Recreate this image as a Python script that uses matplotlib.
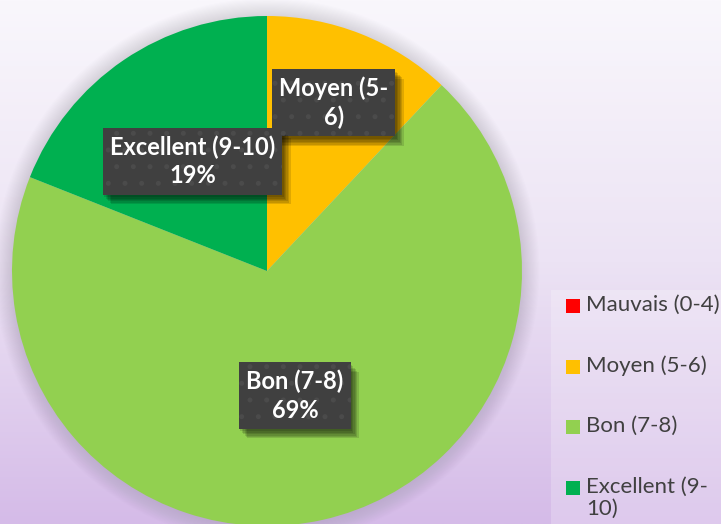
import numpy as np
import matplotlib
matplotlib.use("Agg")
import matplotlib.pyplot as plt
import matplotlib.patheffects as pe
from matplotlib.colors import LinearSegmentedColormap
from matplotlib.patches import Circle, Rectangle

# données
categories = ["Mauvais (0-4)", "Moyen (5-6)", "Bon (7-8)", "Excellent (9-\n10)"]
valeurs = [0, 12, 69, 19]
couleurs = ["#FF0000", "#FFC000", "#92D050", "#00B050"]
etiquettes = ["", "Moyen (5-\n6)", "Bon (7-8)\n69%", "Excellent (9-10)\n19%"]
dist_etiquettes = [0.6, 0.71, 0.50, 0.52]

W, H = 721, 524
plt.rcParams["font.family"] = ["Lato", "DejaVu Sans"]
plt.rcParams["hatch.linewidth"] = 1.2

fig = plt.figure(figsize=(W / 100, H / 100), dpi=100)
ax = fig.add_axes([0, 0, 1, 1])

# fond en dégradé vertical
fond = LinearSegmentedColormap.from_list("fond", ["#d5bbe8", "#ece3f4", "#f9f7fc"])
grad = np.linspace(0, 1, 256).reshape(-1, 1)
ax.imshow(grad, extent=[0, W, 0, H], origin="lower", cmap=fond,
          aspect="auto", zorder=0)

centre = (267, 253)
rayon = 255

# ombre douce autour du camembert
for k in range(16):
    ax.add_patch(Circle(centre, rayon + 1 + k * 1.1, fc="#6f6380",
                        alpha=0.012, lw=0, zorder=1))

wedges, _ = ax.pie(valeurs, colors=couleurs, startangle=90, counterclock=False,
                   center=centre, radius=rayon, frame=True,
                   wedgeprops=dict(linewidth=0, zorder=2))

ombre = [pe.SimplePatchShadow(offset=(o, -o - 1), shadow_rgbFace="black", alpha=0.12)
         for o in (1, 2, 3, 4, 5, 6)]
style = dict(ha="center", va="center", fontsize=17, fontweight="bold",
             linespacing=1.3)

for w, txt, d in zip(wedges, etiquettes, dist_etiquettes):
    if not txt:
        continue
    ang = np.deg2rad((w.theta1 + w.theta2) / 2)
    x = centre[0] + rayon * d * np.cos(ang)
    y = centre[1] + rayon * d * np.sin(ang)
    # fond de l'étiquette avec ombre
    t0 = ax.text(x, y, txt, color="none", zorder=5, **style,
                 bbox=dict(boxstyle="square,pad=0.3", fc="#404040", lw=0))
    t0.get_bbox_patch().set_path_effects(ombre + [pe.Normal()])
    # motif pointillé + texte
    ax.text(x, y, txt, color="white", zorder=6, **style,
            bbox=dict(boxstyle="square,pad=0.3", fc="none", ec="#4b4b4b",
                      lw=0, hatch="."))

# légende
ax.add_patch(Rectangle((551, 0), W - 551, H - 290, fc="white", alpha=0.22,
                       lw=0, zorder=3))
for i, (cat, col) in enumerate(zip(categories, couleurs)):
    yc = H - (306 + i * 60.5)
    ax.add_patch(Rectangle((566, yc - 7), 14, 14, fc=col, lw=0, zorder=4))
    ax.text(586, yc + 11, cat, ha="left", va="top", color="#404040",
            fontsize=16, linespacing=1.15, zorder=4)

ax.set_xlim(0, W)
ax.set_ylim(0, H)
ax.axis("off")

fig.savefig("out.png", dpi=100)
